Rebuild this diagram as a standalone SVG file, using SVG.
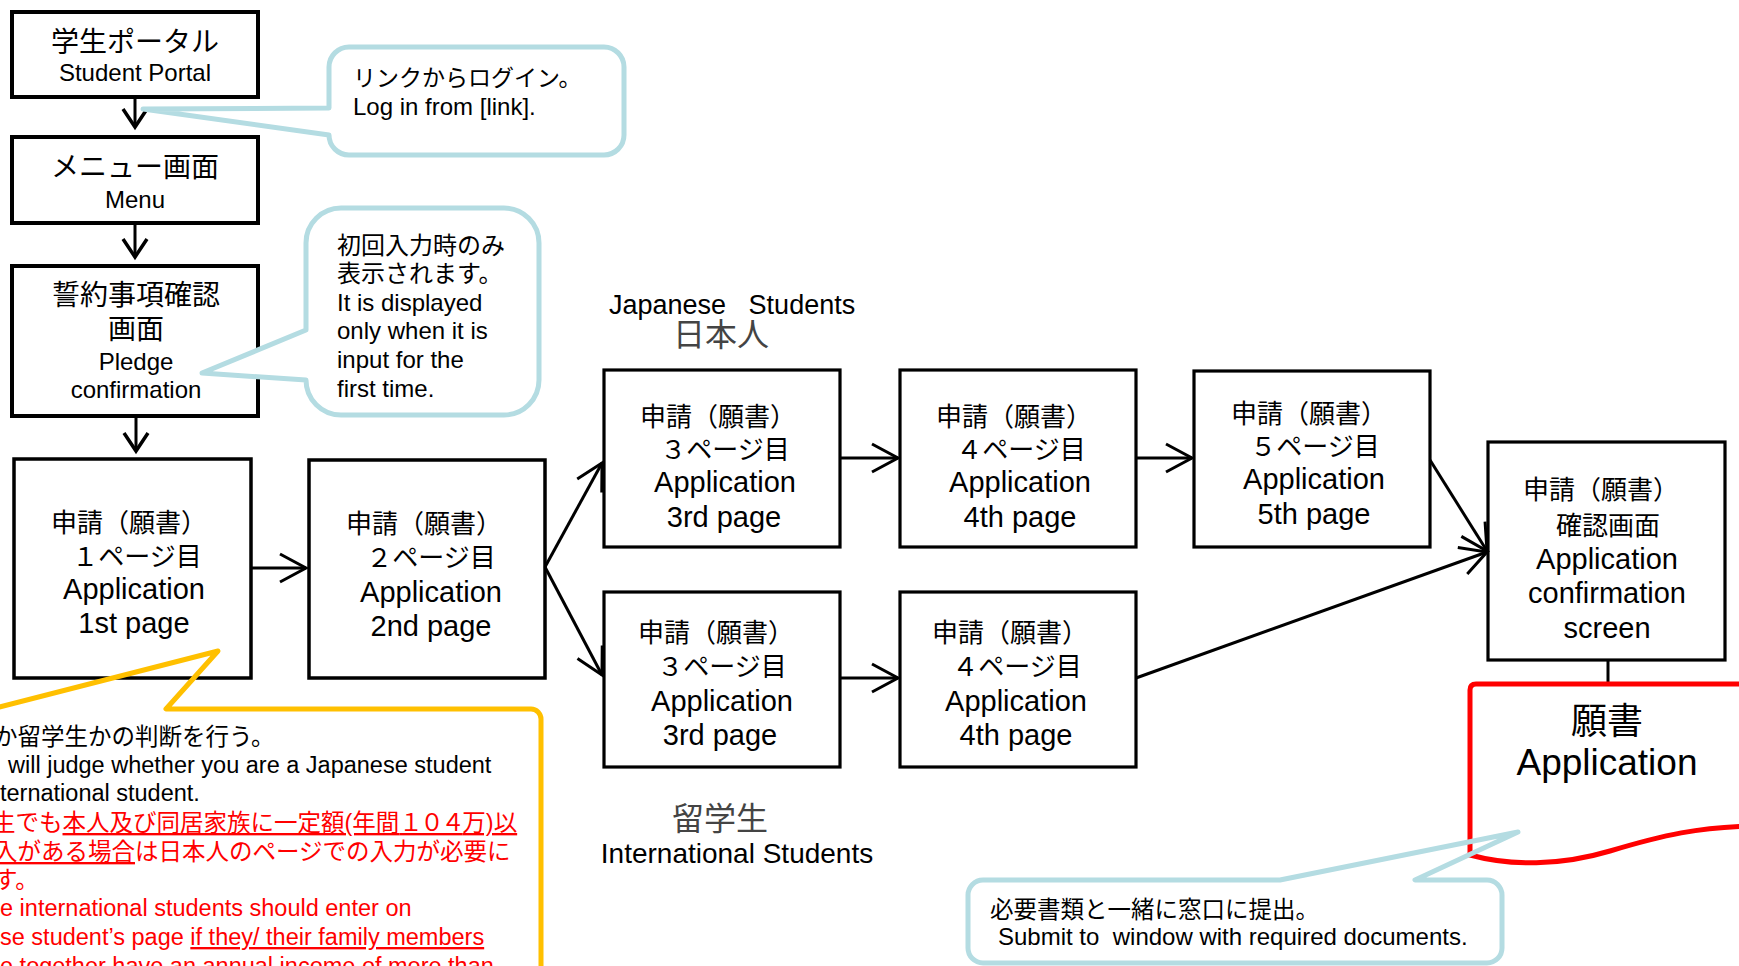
<svg xmlns="http://www.w3.org/2000/svg" width="1739" height="966" viewBox="0 0 1739 966">
<defs>
<style>
text{font-family:"Liberation Sans","Noto Sans CJK JP",sans-serif;fill:#000}
.box{fill:#fff;stroke:#000}
.b4{stroke-width:4}
.b3{stroke-width:3.2}
.c{text-anchor:middle}
.jp28{font-size:28px}
.en24{font-size:24px}
.jp26{font-size:26px}
.en29{font-size:29px}
.call{fill:#fff;stroke:#b4dce2;stroke-width:5;stroke-linejoin:round}
.conn{fill:none;stroke:#000;stroke-width:3}
.ylw{font-size:23.5px}
.red{fill:#ff0000}
.gray{fill:#444;font-size:32px}
</style>
<marker id="ah" viewBox="-32 -20 40 40" markerWidth="40" markerHeight="40" refX="0" refY="0" orient="auto" markerUnits="userSpaceOnUse">
<path d="M-26,-14 L0,0 L-26,14" fill="none" stroke="#000" stroke-width="3"/>
</marker>
<marker id="av" viewBox="-32 -20 40 40" markerWidth="40" markerHeight="40" refX="0" refY="0" orient="auto" markerUnits="userSpaceOnUse">
<path d="M-18,-12 L0,0 L-18,12" fill="none" stroke="#000" stroke-width="3.5"/>
</marker>
</defs>
<rect width="1739" height="966" fill="#fff"/>

<g id="portal">
<rect class="box b4" x="12" y="12" width="246" height="85"/>
<text class="c jp28" x="135" y="52">学生ポータル</text>
<text class="c en24" x="135" y="81">Student Portal</text>
</g>
<g id="menu">
<rect class="box b4" x="12" y="137" width="246" height="86"/>
<text class="c jp28" x="135" y="177">メニュー画面</text>
<text class="c en24" x="135" y="208">Menu</text>
</g>
<g id="pledge">
<rect class="box b4" x="12" y="266" width="246" height="150"/>
<text class="c jp28" x="136" y="305">誓約事項確認</text>
<text class="c jp28" x="136" y="339">画面</text>
<text class="c en24" x="136" y="370">Pledge</text>
<text class="c en24" x="136" y="398">confirmation</text>
</g>
<g id="page1">
<rect class="box" stroke-width="3.5" x="14" y="459" width="237" height="219"/>
<text class="c jp26" x="129" y="532">申請（願書）</text>
<text class="c jp26" x="137" y="566">１ページ目</text>
<text class="c en29" x="134" y="599">Application</text>
<text class="c en29" x="134" y="633">1st page</text>
</g>
<g id="page2">
<rect class="box" stroke-width="3.5" x="309" y="460" width="236" height="218"/>
<text class="c jp26" x="424" y="533">申請（願書）</text>
<text class="c jp26" x="431" y="567">２ページ目</text>
<text class="c en29" x="431" y="602">Application</text>
<text class="c en29" x="431" y="636">2nd page</text>
</g>
<g id="jp3">
<rect class="box b3" x="604" y="370" width="236" height="177"/>
<text class="c jp26" x="718" y="426">申請（願書）</text>
<text class="c jp26" x="725" y="459">３ページ目</text>
<text class="c en29" x="725" y="492">Application</text>
<text class="c en29" x="724" y="527">3rd page</text>
</g>
<g id="jp4">
<rect class="box b3" x="900" y="370" width="236" height="177"/>
<text class="c jp26" x="1014" y="426">申請（願書）</text>
<text class="c jp26" x="1021" y="459">４ページ目</text>
<text class="c en29" x="1020" y="492">Application</text>
<text class="c en29" x="1020" y="527">4th page</text>
</g>
<g id="jp5">
<rect class="box b3" x="1194" y="371" width="236" height="176"/>
<text class="c jp26" x="1309" y="423">申請（願書）</text>
<text class="c jp26" x="1315" y="456">５ページ目</text>
<text class="c en29" x="1314" y="489">Application</text>
<text class="c en29" x="1314" y="524">5th page</text>
</g>
<g id="int3">
<rect class="box b3" x="604" y="592" width="236" height="175"/>
<text class="c jp26" x="716" y="642">申請（願書）</text>
<text class="c jp26" x="722" y="676">３ページ目</text>
<text class="c en29" x="722" y="711">Application</text>
<text class="c en29" x="720" y="745">3rd page</text>
</g>
<g id="int4">
<rect class="box b3" x="900" y="592" width="236" height="175"/>
<text class="c jp26" x="1010" y="642">申請（願書）</text>
<text class="c jp26" x="1017" y="676">４ページ目</text>
<text class="c en29" x="1016" y="711">Application</text>
<text class="c en29" x="1016" y="745">4th page</text>
</g>
<g id="confirm">
<rect class="box b3" x="1488" y="442" width="237" height="218"/>
<text class="c jp26" x="1601" y="499">申請（願書）</text>
<text class="c jp26" x="1608" y="535">確認画面</text>
<text class="c en29" x="1607" y="569">Application</text>
<text class="c en29" x="1607" y="603">confirmation</text>
<text class="c en29" x="1607" y="638">screen</text>
</g>

<g id="connectors">
<path class="conn" stroke-width="3.5" d="M135,97 L135,127" marker-end="url(#av)"/>
<path class="conn" stroke-width="3.5" d="M135,223 L135,257" marker-end="url(#av)"/>
<path class="conn" stroke-width="3.5" d="M136,416 L136,451" marker-end="url(#av)"/>
<path class="conn" d="M251,568 L306,568" marker-end="url(#ah)"/>
<path class="conn" d="M545,567 L602,463" marker-end="url(#ah)"/>
<path class="conn" d="M545,567 L602,675" marker-end="url(#ah)"/>
<path class="conn" d="M840,458 L898,458" marker-end="url(#ah)"/>
<path class="conn" d="M1136,458 L1192,458" marker-end="url(#ah)"/>
<path class="conn" d="M1430,460 L1487,551" marker-end="url(#ah)"/>
<path class="conn" d="M840,678 L898,678" marker-end="url(#ah)"/>
<path class="conn" d="M1136,678 L1487,552" marker-end="url(#ah)"/>
<path class="conn" stroke-width="2" d="M1608,661 L1608,684"/>
</g>

<g id="application-doc">
<path d="M1470,855 L1470,690 Q1470,684 1476,684 L1770,684 L1770,826 L1760,826 C1700,826 1660,836 1610,851 C1560,866 1510,866 1470,855 Z" fill="#fff" stroke="#ff0000" stroke-width="5"/>
<text class="c" x="1607" y="734" font-size="36">願書</text>
<text class="c" x="1607" y="775" font-size="37">Application</text>
</g>

<g id="label-japanese">
<text x="609" y="314" font-size="27" xml:space="preserve" style="white-space:pre">Japanese   Students</text>
<text class="c gray" x="721" y="346">日本人</text>
</g>
<g id="label-international">
<text class="c gray" x="720" y="830">留学生</text>
<text class="c" x="737" y="863" font-size="28">International Students</text>
</g>

<g id="callout-login">
<path class="call" d="M349,47 L604,47 A20,20 0 0 1 624,67 L624,135 A20,20 0 0 1 604,155 L349,155 A20,20 0 0 1 329,135 L143,109 L329,108 L329,67 A20,20 0 0 1 349,47 Z"/>
<text x="353" y="86" font-size="23">リンクからログイン。</text>
<text x="353" y="115" font-size="24">Log in from [link].</text>
</g>
<g id="callout-first">
<path class="call" d="M341,208 L504,208 A35,35 0 0 1 539,243 L539,380 A35,35 0 0 1 504,415 L341,415 A35,35 0 0 1 306,380 L202,373 L306,330 L306,243 A35,35 0 0 1 341,208 Z"/>
<text x="337" y="254" font-size="24">初回入力時のみ</text>
<text x="337" y="282" font-size="24">表示されます。</text>
<text x="337" y="311" font-size="24">It is displayed</text>
<text x="337" y="339" font-size="24">only when it is</text>
<text x="337" y="368" font-size="24">input for the</text>
<text x="337" y="397" font-size="24">first time.</text>
</g>
<g id="callout-judge">
<path d="M-8,709 L218,651 L166,709 L531,709 A10,10 0 0 1 541,719 L541,1000" fill="none" stroke="#ffc000" stroke-width="5" stroke-linejoin="round"/>
<text class="ylw" x="-6" y="745">か留学生かの判断を行う。</text>
<text class="ylw" x="8" y="773">will judge whether you are a Japanese student</text>
<text class="ylw" x="0" y="801">ternational student.</text>
<text class="ylw red" x="-8" y="831">生でも<tspan text-decoration="underline">本人及び同居家族に一定額(年間<tspan letter-spacing="-2.5">１０４</tspan>万)以</tspan></text>
<text class="ylw red" x="-6" y="860"><tspan text-decoration="underline">入がある場合</tspan>は日本人のページでの入力が必要に</text>
<text class="ylw red" x="-6" y="888">す。</text>
<text class="ylw red" x="0" y="916">e international students should enter on</text>
<text class="ylw red" x="0" y="945">se student’s page <tspan text-decoration="underline">if they/ their family members</tspan></text>
<text class="ylw red" x="0" y="974">e together have an annual income of more than</text>
</g>
<g id="callout-submit">
<path d="M983,880 L1280,880 L1518,832 L1415,880 L1487,880 A15,15 0 0 1 1502,895 L1502,948 A15,15 0 0 1 1487,963 L983,963 A15,15 0 0 1 968,948 L968,895 A15,15 0 0 1 983,880 Z" fill="none" stroke="#b4dce2" stroke-width="5" stroke-linejoin="round"/>
<text x="990" y="918" font-size="23.5">必要書類と一緒に窓口に提出。</text>
<text x="998" y="945" font-size="24" xml:space="preserve" style="white-space:pre">Submit to  window with required documents.</text>
</g>
</svg>
